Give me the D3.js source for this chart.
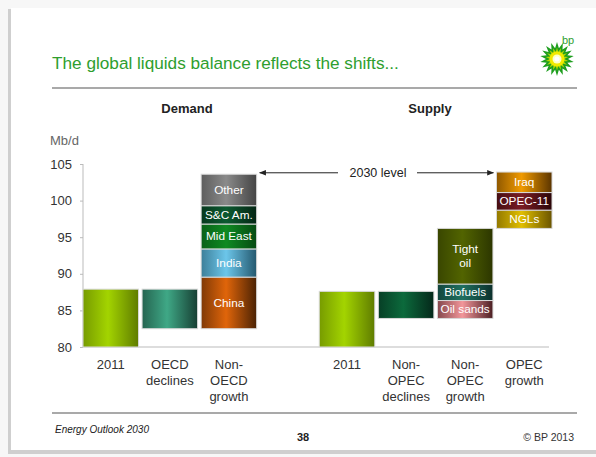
<!DOCTYPE html>
<html lang="en">
<head>
<meta charset="utf-8">
<title>Global liquids balance</title>
<script src="https://d3js.org/d3.v7.min.js"></script>
<style>
  body { margin: 0; background: #f7f7f7; font-family: "Liberation Sans", Arial, sans-serif; }
  svg { display: block; }
</style>
</head>
<body>
<div id="vis"></div>
<script>
  // ---- data (Mb/d) ----
  const slots = ["d2011", "oecd", "nonOecd", "gap", "s2011", "nonOpecDecl", "nonOpecGrowth", "opecGrowth"];
  const slotLabels = [["2011"], ["OECD", "declines"], ["Non-", "OECD", "growth"], [],
                      ["2011"], ["Non-", "OPEC", "declines"], ["Non-", "OPEC", "growth"], ["OPEC", "growth"]];

  const demand2011 = 87.9;
  const oecdDecline = -5.4;
  const nonOecdNames = ["China", "India", "Mid East", "S&C Am.", "Other"];
  const nonOecdValues = [7.05, 3.85, 3.4, 2.5, 4.3];

  const supply2011 = 87.6;
  const nonOpecDecline = -3.7;
  const nonOpecNames = ["Oil sands", "Biofuels", "Tight oil"];
  const nonOpecValues = [2.45, 2.25, 7.6];
  const opecNames = ["NGLs", "OPEC-11", "Iraq"];
  const opecValues = [2.5, 2.4, 2.8];

  const level2030 = 103.8;
  const yTicks = [80, 85, 90, 95, 100, 105];

  // segment colours: [edge, middle]
  const colours = {
    "d2011": ["#5f7c00", "#a3d400"], "s2011": ["#5f7c00", "#a3d400"],
    "oecd": ["#173f33", "#3fa886"],
    "China": ["#4a2204", "#e0650a"], "India": ["#24586e", "#6cc6ea"],
    "Mid East": ["#064a12", "#0f8a22"], "S&C Am.": ["#042614", "#0c5a30"],
    "Other": ["#444444", "#8a8a8a"],
    "nonOpecDecl": ["#04281a", "#0c6a3c"],
    "Oil sands": ["#4a1e22", "#f2969a"], "Biofuels": ["#0c302c", "#207060"],
    "Tight oil": ["#2c3600", "#526400"],
    "NGLs": ["#6a5400", "#e0be00"], "OPEC-11": ["#2a0608", "#7a1c24"],
    "Iraq": ["#5a3400", "#f09a00"]
  };

  // build waterfall segments from the arrays above
  function stack(slot, start, names, values) {
    let y = start;
    return names.map((n, i) => {
      const seg = { slot, name: n, y0: y, y1: y + values[i], label: true };
      y += values[i];
      return seg;
    });
  }
  const segments = [
    { slot: "d2011", name: "d2011", y0: 80, y1: demand2011 },
    { slot: "oecd", name: "oecd", y0: demand2011 + oecdDecline, y1: demand2011 },
    ...stack("nonOecd", demand2011 + oecdDecline, nonOecdNames, nonOecdValues),
    { slot: "s2011", name: "s2011", y0: 80, y1: supply2011 },
    { slot: "nonOpecDecl", name: "nonOpecDecl", y0: supply2011 + nonOpecDecline, y1: supply2011 },
    ...stack("nonOpecGrowth", supply2011 + nonOpecDecline, nonOpecNames, nonOpecValues),
    ...stack("opecGrowth", d3.sum(nonOpecValues) + supply2011 + nonOpecDecline, opecNames, opecValues)
  ];

  // ---- layout ----
  const W = 596, H = 457;
  const svg = d3.select("#vis").append("svg").attr("width", W).attr("height", H);

  // slide with shadow
  svg.append("rect").attr("x", 8).attr("y", 9).attr("width", W).attr("height", 445).attr("fill", "#cfcfcf");
  svg.append("rect").attr("x", 11).attr("y", 8).attr("width", W).attr("height", 442).attr("fill", "#fff");

  const x = d3.scaleBand().domain(slots).range([83, 552]).paddingInner(0.06).paddingOuter(0);
  const y = d3.scaleLinear().domain([80, 105]).range([347, 164]);

  const defs = svg.append("defs");
  Object.entries(colours).forEach(([k, c], i) => {
    const g = defs.append("linearGradient").attr("id", "g" + i).attr("x1", 0).attr("x2", 1).attr("y1", 0).attr("y2", 0);
    g.append("stop").attr("offset", "0%").attr("stop-color", d3.interpolateRgb(c[0], c[1])(0.35));
    g.append("stop").attr("offset", "45%").attr("stop-color", c[1]);
    g.append("stop").attr("offset", "100%").attr("stop-color", c[0]);
    colours[k].id = "g" + i;
  });

  // header
  svg.append("text").attr("x", 52).attr("y", 69).attr("fill", "#2e9e2e")
    .style("font-size", "17.2px").text("The global liquids balance reflects the shifts...");
  svg.append("line").attr("x1", 52).attr("x2", 577).attr("y1", 88).attr("y2", 88)
    .attr("stroke", "#555").attr("stroke-width", 1.2);
  svg.append("text").attr("x", 187).attr("y", 113).attr("text-anchor", "middle")
    .style("font-size", "13px").style("font-weight", "bold").attr("fill", "#222").text("Demand");
  svg.append("text").attr("x", 430).attr("y", 113).attr("text-anchor", "middle")
    .style("font-size", "13px").style("font-weight", "bold").attr("fill", "#222").text("Supply");

  // bp logo
  const logo = svg.append("g").attr("transform", "translate(557,59)");
  const star = (n, r0, r1) => d3.range(n * 2).map(i => {
    const a = Math.PI * i / n, r = i % 2 ? r0 : r1;
    return [Math.sin(a) * r, -Math.cos(a) * r];
  });
  logo.append("path").attr("d", d3.line()(star(18, 11, 17)) + "Z").attr("fill", "#1e9e1e");
  logo.append("path").attr("d", d3.line()(star(18, 7, 11.5)) + "Z").attr("fill", "#b6d800");
  logo.append("circle").attr("r", 7.5).attr("fill", "#f2ea00");
  logo.append("circle").attr("r", 4.5).attr("fill", "#ffffc8");
  logo.append("circle").attr("r", 2.5).attr("fill", "#fff");
  svg.append("text").attr("x", 568).attr("y", 44).attr("text-anchor", "middle").attr("fill", "#2e9e2e")
    .style("font-size", "11px").text("bp");

  // axis
  svg.append("text").attr("x", 50).attr("y", 145).attr("fill", "#666").style("font-size", "13px").text("Mb/d");
  const axis = svg.append("g").attr("transform", "translate(83,0)")
    .call(d3.axisLeft(y).tickValues(yTicks).tickSize(3).tickPadding(8));
  axis.select(".domain").attr("stroke", "#bbb").attr("d", `M0,${y(105)}V${y(80)}`);
  axis.selectAll(".tick line").attr("stroke", "#bbb");
  axis.selectAll(".tick text").attr("fill", "#333").style("font-size", "13px")
    .style("font-family", "Liberation Sans, Arial, sans-serif");
  svg.append("line").attr("x1", 83).attr("x2", 549).attr("y1", y(80)).attr("y2", y(80)).attr("stroke", "#bbb");

  // bars
  const bars = svg.append("g").selectAll("g").data(segments).join("g");
  bars.append("rect")
    .attr("x", d => x(d.slot))
    .attr("y", d => y(d.y1))
    .attr("width", x.bandwidth())
    .attr("height", d => y(d.y0) - y(d.y1))
    .attr("fill", d => `url(#${colours[d.name].id})`)
    .attr("stroke", "#d8d8d8").attr("stroke-width", 1);
  bars.filter(d => d.label).each(function (d) {
    const words = d.name === "Tight oil" ? ["Tight", "oil"] : [d.name];
    const cy = (y(d.y0) + y(d.y1)) / 2;
    d3.select(this).append("text")
      .attr("text-anchor", "middle").attr("fill", "#fff").style("font-size", "11.8px")
      .selectAll("tspan").data(words).join("tspan")
      .attr("x", x(d.slot) + x.bandwidth() / 2)
      .attr("y", (w, i) => cy + 4 + (i - (words.length - 1) / 2) * 14)
      .text(w => w);
  });

  // category labels
  svg.append("g").selectAll("text").data(slots).join("text")
    .attr("text-anchor", "middle").attr("fill", "#333").style("font-size", "13px")
    .each(function (s, i) {
      d3.select(this).selectAll("tspan").data(slotLabels[i]).join("tspan")
        .attr("x", x(s) + x.bandwidth() / 2)
        .attr("y", (w, j) => 369 + j * 16)
        .text(w => w);
    });

  // 2030 level arrows
  const ly = y(level2030);
  svg.append("defs").html(
    '<marker id="ah" viewBox="0 0 10 10" refX="9" refY="5" markerWidth="7" markerHeight="7" orient="auto-start-reverse">' +
    '<path d="M0,1L10,5L0,9Z" fill="#222"/></marker>');
  svg.append("line").attr("x1", 338).attr("x2", x("nonOecd") + x.bandwidth() + 3)
    .attr("y1", ly).attr("y2", ly).attr("stroke", "#222").attr("marker-end", "url(#ah)");
  svg.append("line").attr("x1", 417).attr("x2", x("opecGrowth") - 3)
    .attr("y1", ly).attr("y2", ly).attr("stroke", "#222").attr("marker-end", "url(#ah)");
  svg.append("text").attr("x", 378).attr("y", ly + 4.5).attr("text-anchor", "middle")
    .attr("fill", "#222").style("font-size", "12.5px").text("2030 level");

  // footer
  svg.append("line").attr("x1", 52).attr("x2", 577).attr("y1", 413).attr("y2", 413)
    .attr("stroke", "#555").attr("stroke-width", 1.2);
  svg.append("text").attr("x", 55).attr("y", 433).attr("fill", "#222")
    .style("font-size", "10px").style("font-style", "italic").text("Energy Outlook 2030");
  svg.append("text").attr("x", 303).attr("y", 441).attr("text-anchor", "middle").attr("fill", "#222")
    .style("font-size", "11px").style("font-weight", "bold").text("38");
  svg.append("text").attr("x", 574).attr("y", 441).attr("text-anchor", "end").attr("fill", "#333")
    .style("font-size", "10.5px").text("© BP 2013");
</script>
</body>
</html>
